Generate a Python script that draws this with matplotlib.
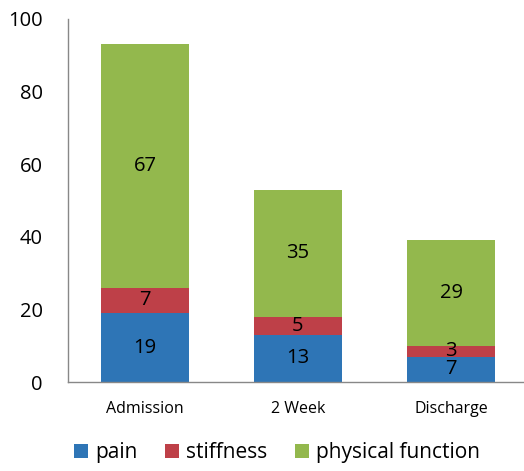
import numpy as np
import matplotlib
matplotlib.use("Agg")
import matplotlib.pyplot as plt

plt.rcParams['font.family'] = ['Open Sans', 'DejaVu Sans']

stages = ["Admission", "2 Week", "Discharge"]
pain = [19, 13, 7]
stiffness = [7, 5, 3]
physical = [67, 35, 29]

series = [("pain", pain, "#2E75B6"),
          ("stiffness", stiffness, "#BE4048"),
          ("physical function", physical, "#93B84D")]

fig = plt.figure(figsize=(5.24, 4.71), dpi=100)
ax = fig.add_axes([68/524, 89/471, 1 - 68/524, (382-19)/471])

x = np.arange(len(stages))
bottom = np.zeros(len(stages))
for name, vals, col in series:
    vals = np.array(vals, dtype=float)
    ax.bar(x, vals, 0.575, bottom=bottom, color=col, label=name)
    for xi, b, v in zip(x, bottom, vals):
        ax.text(xi, b + v/2, f"{int(v)}", ha="center", va="center",
                fontsize=14.5, color="black")
    bottom += vals

ax.set_xlim(-0.503, 2.477)
ax.set_ylim(0, 100)
ax.set_yticks(range(0, 101, 20))
ax.set_xticks(x)
ax.set_xticklabels(stages, fontsize=11.5)
ax.tick_params(axis="y", length=0, pad=18, labelsize=14.5)
ax.tick_params(axis="x", length=0, pad=14)
for s in ["top", "right"]:
    ax.spines[s].set_visible(False)
for s in ["left", "bottom"]:
    ax.spines[s].set_color("#888888")
    ax.spines[s].set_linewidth(1.0)

fig.legend(loc="lower center", bbox_to_anchor=(277/524, -0.01), ncol=3,
           frameon=False, fontsize=15, handlelength=0.67, handleheight=0.67,
           handletextpad=0.33, columnspacing=1.33, borderaxespad=0.2)

fig.savefig("out.png", dpi=100)
